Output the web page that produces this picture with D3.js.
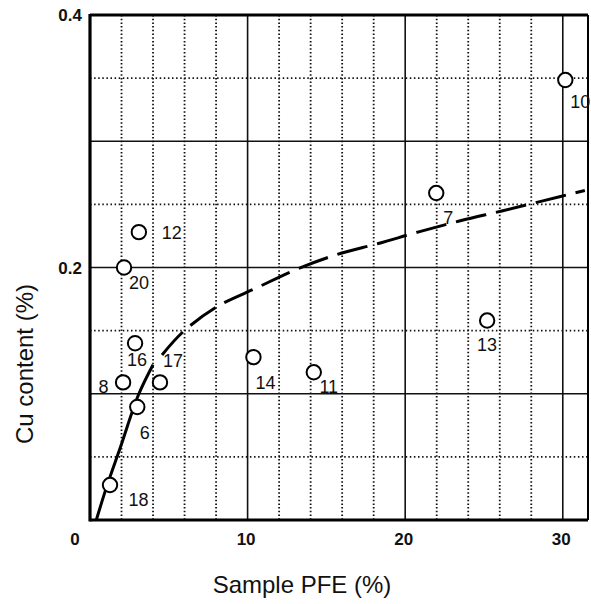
<!DOCTYPE html>
<html><head><meta charset="utf-8">
<script src="https://cdn.jsdelivr.net/npm/d3@7"></script>
<style>
html,body{margin:0;padding:0;background:#fff;}
text{font-family:"Liberation Sans",Arial,Helvetica,sans-serif;fill:#111;}
</style></head>
<body>
<svg id="c" width="591" height="604"></svg>
<script>
// --- data ---
const sampleIds = ["12","20","16","8","17","6","18","14","11","13","7","10"];
const pfe = [3.1, 2.16, 2.86, 2.1, 4.44, 3.0, 1.27, 10.37, 14.2, 25.2, 21.97, 30.16];
const cu  = [0.228, 0.2, 0.140, 0.109, 0.109, 0.0895, 0.0277, 0.129, 0.117, 0.158, 0.259, 0.3485];

// fitted curve (solid part, then dashed part)
const curveSolidX = [0.40, 1.10, 1.94, 3.07, 4.0];
const curveSolidY = [0.0, 0.028, 0.058, 0.099, 0.123];
const curveDashX = [4.57, 5.9, 8.06, 10.6, 13.0, 15.6, 18.3, 20.8, 23.5, 26.2, 28.8, 31.4];
const curveDashY = [0.1307, 0.149, 0.169, 0.184, 0.198, 0.21, 0.219, 0.228, 0.237, 0.245, 0.253, 0.261];

const xTickLabels = [10, 20, 30];
const yTickLabels = [0.2, 0.4];
const xSolidGrid = [10, 20, 30];
const xDotGrid = [2,4,6,8,12,14,16,18,22,24,26,28];
const ySolidGrid = [0.1, 0.2, 0.3];
const yDotGrid = [0.05, 0.15, 0.25, 0.35];

// label offsets (layout only)
const labelOffset = {
  "12":[33,7], "20":[15,21], "16":[2,23], "8":[-19.5,11], "17":[13,-15], "6":[7.5,32],
  "18":[28.5,21], "14":[12,32], "11":[15,21], "13":[0,30], "7":[12,31], "10":[15,28]
};

const svg = d3.select("#c");
const L = 90, R = 588, T = 15, B = 520;
const x = d3.scaleLinear().domain([0, 31.6]).range([L, R]);
const y = d3.scaleLinear().domain([0, 0.4]).range([B, T]);

const g = svg.append("g");
// grid
g.selectAll(".xd").data(xDotGrid).join("line")
  .attr("x1", d=>x(d)).attr("x2", d=>x(d)).attr("y1", T).attr("y2", B)
  .attr("stroke","#111").attr("stroke-width",1.8).attr("stroke-dasharray","1.5,2.2");
g.selectAll(".yd").data(yDotGrid).join("line")
  .attr("x1", L).attr("x2", R).attr("y1", d=>y(d)).attr("y2", d=>y(d))
  .attr("stroke","#111").attr("stroke-width",1.6).attr("stroke-dasharray","1.5,2.6");
g.selectAll(".xs").data(xSolidGrid).join("line")
  .attr("x1", d=>x(d)).attr("x2", d=>x(d)).attr("y1", T).attr("y2", B)
  .attr("stroke","#111").attr("stroke-width",1.6);
g.selectAll(".ys").data(ySolidGrid).join("line")
  .attr("x1", L).attr("x2", R).attr("y1", d=>y(d)).attr("y2", d=>y(d))
  .attr("stroke","#111").attr("stroke-width",1.3);

// frame
g.append("line").attr("x1",L).attr("x2",L).attr("y1",T-1).attr("y2",B+1.5).attr("stroke","#000").attr("stroke-width",3.2);
g.append("line").attr("x1",L).attr("x2",R).attr("y1",T).attr("y2",T).attr("stroke","#000").attr("stroke-width",3);
g.append("line").attr("x1",L).attr("x2",R).attr("y1",B).attr("y2",B).attr("stroke","#000").attr("stroke-width",3);
g.append("line").attr("x1",R).attr("x2",R).attr("y1",T).attr("y2",B).attr("stroke","#000").attr("stroke-width",2);

// curve
const line = d3.line().x(d=>x(d[0])).y(d=>y(d[1])).curve(d3.curveCatmullRom.alpha(0.5));
g.append("path").datum(d3.zip(curveSolidX, curveSolidY)).attr("d", line)
  .attr("fill","none").attr("stroke","#000").attr("stroke-width",3);
g.append("path").datum(d3.zip(curveDashX, curveDashY)).attr("d", line)
  .attr("fill","none").attr("stroke","#000").attr("stroke-width",3)
  .attr("stroke-dasharray","31,10");

// points
const pts = sampleIds.map((id,i)=>({id, x:pfe[i], y:cu[i]}));
g.selectAll("circle.p").data(pts).join("circle")
  .attr("cx", d=>x(d.x)).attr("cy", d=>y(d.y)).attr("r", 7.2)
  .attr("fill","#fff").attr("stroke","#000").attr("stroke-width",2);
g.selectAll("text.p").data(pts).join("text")
  .attr("x", d=>x(d.x)+labelOffset[d.id][0]).attr("y", d=>y(d.y)+labelOffset[d.id][1])
  .attr("text-anchor","middle").attr("font-size",18).text(d=>d.id);

// tick labels
svg.selectAll("text.xt").data(xTickLabels).join("text")
  .attr("x", d=>x(d)-1.5).attr("y", 545).attr("text-anchor","middle")
  .attr("font-size",17).attr("font-weight","bold").text(d=>d);
svg.append("text").attr("x",75).attr("y",545).attr("text-anchor","middle")
  .attr("font-size",17).attr("font-weight","bold").text("0");
svg.selectAll("text.yt").data(yTickLabels).join("text")
  .attr("x", 82).attr("y", d=>y(d)+6).attr("text-anchor","end")
  .attr("font-size",17).attr("font-weight","bold").text(d=>d.toFixed(1));

// axis titles
svg.append("text").attr("x",302).attr("y",593).attr("text-anchor","middle")
  .attr("font-size",24).text("Sample PFE (%)");
svg.append("text").attr("transform","translate(33,364) rotate(-90)").attr("text-anchor","middle")
  .attr("font-size",24).text("Cu content (%)");
</script>
</body></html>
